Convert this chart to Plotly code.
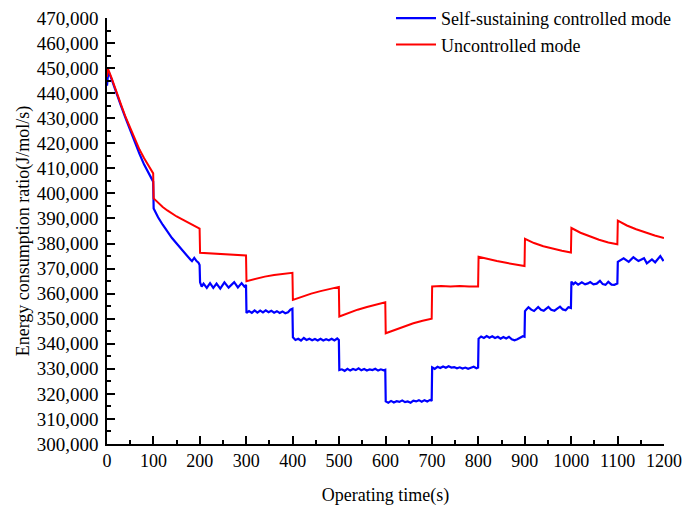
import plotly.graph_objects as go

# Operating time (s) and energy consumption ratio (J/mol/s) for each control mode
t_controlled = [
    0, 3, 10, 20, 30, 40, 50, 60, 70, 80, 90, 99.5,
    100.5, 110, 120, 130, 140, 150, 160, 170, 180, 183, 188, 193, 197, 199.5,
    200.5, 204, 208, 215, 222, 229, 236, 244, 253, 262, 268, 274, 282, 290, 296, 299.5,
    300.5, 306, 312, 318, 324, 330, 336, 342, 348, 354, 360, 366, 372, 378, 384, 390, 395, 399.5,
    400.5, 406, 412, 418, 424, 430, 436, 442, 448, 454, 460, 466, 472, 478, 484, 490, 496, 499.5,
    500.5, 506, 512, 518, 524, 530, 536, 542, 548, 554, 560, 566, 572, 578, 584, 590, 596, 599.5,
    600.5, 606, 612, 618, 624, 630, 636, 642, 648, 654, 660, 666, 672, 678, 684, 690, 696, 699.5,
    700.5, 706, 712, 718, 724, 730, 736, 742, 748, 754, 760, 766, 772, 778, 784, 790, 796, 799.5,
    800.5, 806, 812, 818, 824, 830, 836, 842, 848, 854, 860, 866, 872, 878, 884, 890, 896, 899.5,
    900.5, 904, 908, 914, 920, 929, 935, 941, 951, 957, 964, 970, 976, 982, 988, 994, 999.5,
    1000.5, 1005, 1009, 1015, 1023, 1030, 1036, 1041, 1048, 1055, 1062, 1068, 1074, 1080, 1087, 1093, 1099.5,
    1100.5, 1113, 1124, 1134, 1145, 1157, 1163, 1174, 1181, 1192, 1199,
]
e_controlled = [
    443000, 448800, 445500, 440000, 435000, 430000, 425000, 420300, 415800, 411500, 408000, 404700,
    394000, 390500, 387500, 384700, 382200, 380000, 377700, 375600, 373500, 373000, 374300, 373000, 372400, 371400,
    364500, 362800, 364000, 362300, 364200, 362300, 364000, 362000, 364500, 362400, 363600, 364600, 362500, 364200, 362800, 363500,
    352300, 353000, 352300, 353300, 352400, 353200, 352500, 353300, 352600, 353200, 352400, 353000, 352300, 352900, 352200, 352600, 353600, 354000,
    342600, 341500, 342000, 341300, 342300, 341500, 342000, 341400, 341900, 341300, 342000, 341300, 341800, 341400, 342000, 341300, 342100, 341500,
    329500, 329800, 329200, 330000, 329300, 329900, 329500, 330200, 329400, 329900, 329300, 329800, 329500, 330000, 329300, 329800, 329400, 329600,
    317000, 316500, 317200, 316600, 317100, 316800, 317400, 316700, 317000, 316500, 317300, 317000, 317500, 316900, 317500, 317000, 317600, 317200,
    330600, 330000, 330800, 330300, 330900, 330400, 331000, 330500, 330700, 330200, 330600, 330100, 330500, 330000, 330400, 330800, 330200, 330500,
    342000, 342900, 342300, 343100, 342400, 343000, 342300, 342800, 342000, 342700, 342100, 342800, 341800, 341400, 341800, 342500, 343000, 342800,
    353000, 353800, 354600, 353600, 353100, 354700, 353600, 353200, 354700, 353600, 353200, 354000, 354800, 353700, 353400, 354600, 354300,
    364800, 363800, 364500, 363600, 364500, 363700, 364100, 364600, 363700, 364000, 365100, 363800, 363500, 364700, 363600, 363500, 364000,
    372700, 374100, 372700, 374500, 373000, 374100, 372100, 373700, 372500, 375000, 373000,
]

t_uncontrolled = [
    0, 2, 10, 20, 30, 40, 50, 60, 70, 80, 90, 99.5,
    100.5, 110, 120, 130, 140, 150, 160, 170, 180, 190, 199.5,
    200.5, 225, 250, 275, 299.5,
    300.5, 320, 340, 360, 380, 399.5,
    400.5, 420, 440, 460, 480, 499.5,
    500.5, 520, 540, 560, 580, 599.5,
    600.5, 620, 640, 660, 680, 699.5,
    700.5, 720, 740, 760, 780, 799.5,
    800.5, 820, 840, 860, 880, 899.5,
    900.5, 920, 940, 960, 980, 999.5,
    1000.5, 1020, 1040, 1060, 1080, 1099.5,
    1100.5, 1120, 1140, 1160, 1180, 1200,
]
e_uncontrolled = [
    446500, 449800, 446000, 440500, 435500, 430500, 426000, 421500, 417500, 414000, 410800, 408000,
    398000, 396200, 394600, 393200, 391900, 390800, 389800, 388800, 387800, 386800, 386000,
    376300, 376000, 375800, 375500, 375200,
    365000, 366000, 366800, 367400, 367900, 368300,
    357500, 358800, 360000, 361000, 361900, 362700,
    350900, 352300, 353600, 354700, 355700, 356600,
    344200, 345600, 347000, 348200, 349200, 350000,
    362900, 363100, 362900, 363100, 362900, 362900,
    374700, 373800, 373000, 372300, 371600, 371000,
    381900, 380200, 378900, 377900, 377100, 376400,
    386200, 384300, 382800, 381500, 380400, 379700,
    389100, 387200, 385700, 384300, 383200, 382200,
]

x_ticks = list(range(0, 1201, 100))
y_ticks = list(range(300000, 470001, 10000))

serif = "Liberation Serif, Times New Roman, serif"

fig = go.Figure()
fig.add_trace(go.Scatter(
    x=t_controlled, y=e_controlled, mode="lines",
    name="Self-sustaining controlled mode",
    line=dict(color="#0000ff", width=2.2),
))
fig.add_trace(go.Scatter(
    x=t_uncontrolled, y=e_uncontrolled, mode="lines",
    name="Uncontrolled mode",
    line=dict(color="#ff0000", width=2),
))

fig.update_layout(
    width=684, height=506,
    margin=dict(l=107, r=20, t=18, b=62, autoexpand=False),
    paper_bgcolor="white", plot_bgcolor="white",
    font=dict(family=serif, color="black", size=18),
    showlegend=True,
    legend=dict(
        xref="container", yref="container",
        x=391 / 684, y=1.009, xanchor="left", yanchor="top",
        bgcolor="rgba(0,0,0,0)", font=dict(family=serif, size=18, color="black"),
        tracegroupgap=0, itemwidth=40,
    ),
    xaxis=dict(
        range=[0, 1200], tickvals=x_ticks, ticktext=[str(v) for v in x_ticks],
        showline=True, linecolor="black", linewidth=1.5, mirror=False,
        ticks="inside", ticklen=8, tickwidth=1.5, tickcolor="black",
        minor=dict(ticks="inside", ticklen=4, tickwidth=1.5, tickcolor="black", dtick=50, showgrid=False),
        showgrid=False, zeroline=False, automargin=False,
        tickfont=dict(family=serif, size=18, color="black"),
        title=dict(text="Operating time(s)", font=dict(family=serif, size=18, color="black"), standoff=22),
    ),
    yaxis=dict(
        range=[300000, 470000], tickvals=y_ticks, tickformat=",d",
        showline=True, linecolor="black", linewidth=1.5, mirror=False,
        ticks="inside", ticklen=8, tickwidth=1.5, tickcolor="black",
        minor=dict(ticks="inside", ticklen=4, tickwidth=1.5, tickcolor="black", dtick=5000, showgrid=False),
        showgrid=False, zeroline=False, automargin=False,
        ticklabelstandoff=3,
        tickfont=dict(family=serif, size=19, color="black"),
        title=dict(text="Energy consumption ratio(J/mol/s)", font=dict(family=serif, size=18, color="black"), standoff=2),
    ),
)

fig.write_html("out.html")
